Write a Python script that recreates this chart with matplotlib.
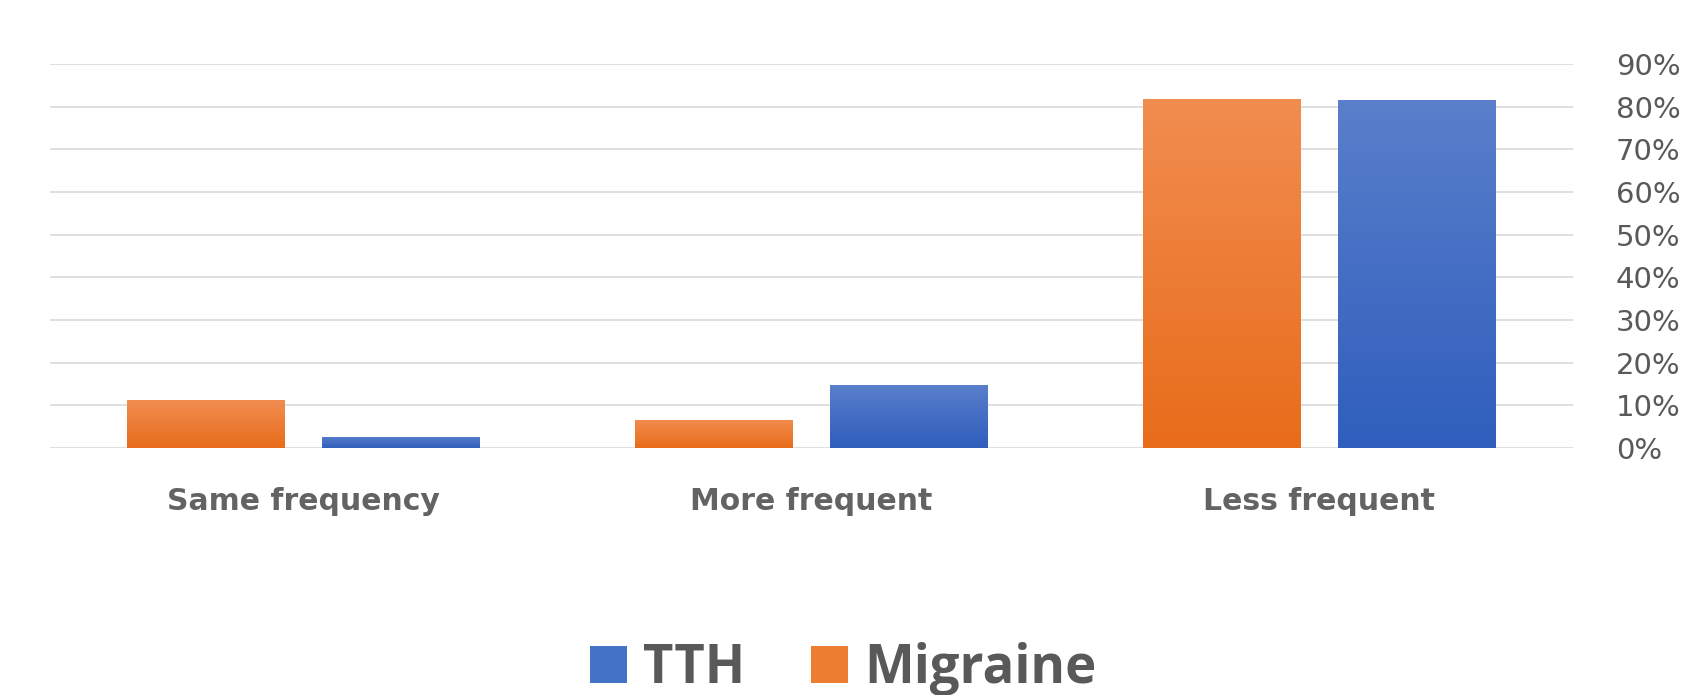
import matplotlib
matplotlib.use("Agg")
import matplotlib.pyplot as plt
import numpy as np
from matplotlib.patches import Patch
from matplotlib.colors import LinearSegmentedColormap

categories = ["Same frequency", "More frequent", "Less frequent"]
migraine = [0.112, 0.066, 0.817]
tth = [0.026, 0.148, 0.815]
yticks = [0.0, 0.1, 0.2, 0.3, 0.4, 0.5, 0.6, 0.7, 0.8, 0.9]
ytick_labels = ["0%", "10%", "20%", "30%", "40%", "50%", "60%", "70%", "80%", "90%"]

plt.rcParams['font.family'] = ['DejaVu Sans']

fig = plt.figure(figsize=(16.93, 6.95), dpi=100)
ax = fig.add_axes([50/1693, 1-448/695, (1573-50)/1693, (448-64)/695])

x = np.arange(len(categories))
w = 0.311
off = 0.192
orange_cmap = LinearSegmentedColormap.from_list("o", ["#E86C1A", "#F18D50"])
blue_cmap = LinearSegmentedColormap.from_list("b", ["#2F5EBD", "#5A7FCB"])

bars_m = ax.bar(x - off, migraine, w, color="#ED7D31", zorder=2, linewidth=0)
bars_t = ax.bar(x + off, tth, w, color="#4472C4", zorder=2, linewidth=0)

grad = np.linspace(0, 1, 256).reshape(-1, 1)
for bars, cmap in ((bars_m, orange_cmap), (bars_t, blue_cmap)):
    for b in bars:
        x0, y0 = b.get_x(), b.get_y()
        bw, bh = b.get_width(), b.get_height()
        im = ax.imshow(grad, cmap=cmap, origin="lower", aspect="auto",
                       extent=(x0, x0 + bw, y0, y0 + bh), zorder=3)
        im.set_clip_path(b)

ax.set_xlim(-0.5, 2.5)
ax.set_ylim(0, 0.9)
ax.set_yticks(yticks)
ax.set_yticklabels(ytick_labels)
ax.yaxis.tick_right()
ax.tick_params(axis="y", length=0, pad=31, labelsize=21, labelcolor="#595959")
ax.set_xticks(x)
ax.set_xticklabels(categories, fontweight="bold")
ax.tick_params(axis="x", length=0, pad=28, labelsize=21.5, labelcolor="#636363")
for s in ax.spines.values():
    s.set_visible(False)
ax.grid(axis="y", color="#D9D9D9", linewidth=1.2, zorder=0)
ax.set_axisbelow(True)

handles = [Patch(facecolor="#4472C4", label="TTH"),
           Patch(facecolor="#ED7D31", label="Migraine")]
leg = fig.legend(handles=handles, loc="center", bbox_to_anchor=(0.498, 0.037),
                 ncol=2, frameon=False,
                 prop={"family": "Open Sans", "size": 38, "weight": "bold"},
                 handlelength=0.7, handleheight=0.7, handletextpad=0.3, columnspacing=1.25)
for t in leg.get_texts():
    t.set_color("#595959")

fig.savefig("out.png", dpi=100, facecolor="white")
